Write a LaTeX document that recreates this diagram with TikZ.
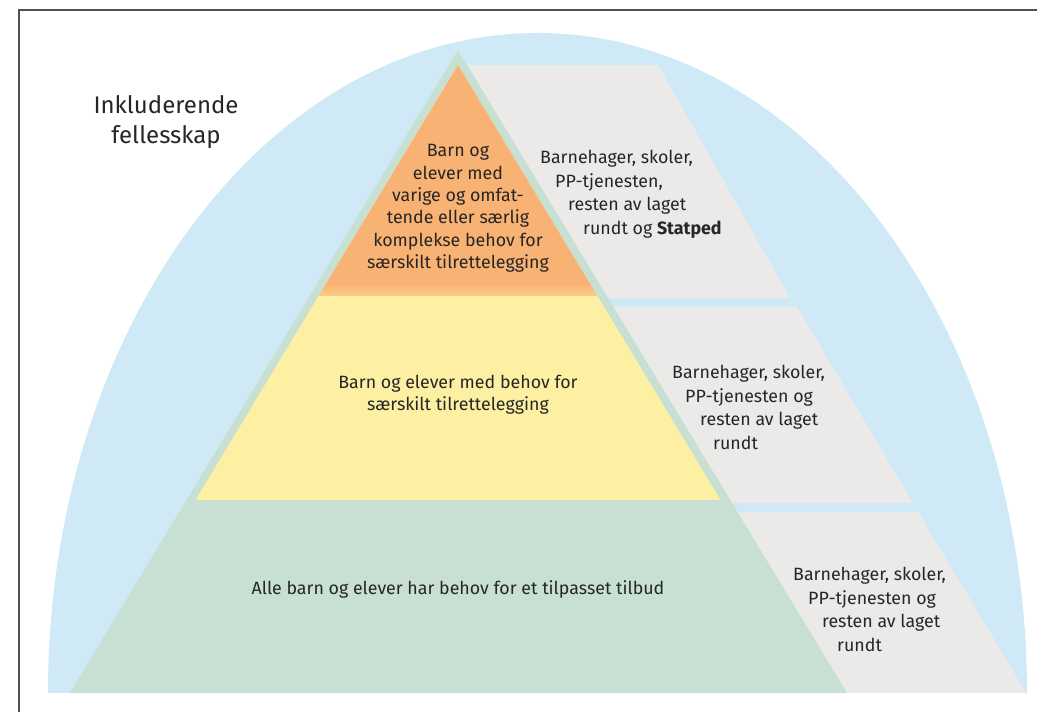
\documentclass[tikz,border=0pt]{standalone}
\usepackage{fontspec}
\setmainfont{Fira Sans}
\definecolor{archblue}{RGB}{207,234,246}
\definecolor{pyrgreen}{RGB}{200,224,212}
\definecolor{pyryellow}{RGB}{253,240,163}
\definecolor{pyrorange}{RGB}{248,178,115}
\definecolor{bandgray}{RGB}{235,234,233}
\definecolor{textgray}{RGB}{38,38,38}
\definecolor{framegray}{RGB}{80,80,80}
\tikzset{
	layertext/.style={align=center, inner sep=0pt, text=textgray, font=\fontsize{17.8}{22.3}\selectfont},
	bandtext/.style={align=left, anchor=north west, inner sep=0pt, text=textgray, font=\fontsize{17.8}{23.5}\selectfont},
}
\begin{document}
\begin{tikzpicture}[x=1pt,y=1pt]
		\useasboundingbox (0,0) rectangle (1037,712);
		\draw[framegray, line width=2pt] (19,0) -- (19,702) -- (1037,702);
		\fill[archblue] (48,19) arc[start angle=180, end angle=0, x radius=489.5, y radius=660] -- cycle;
		\fill[bandgray] (467,647) -- (658,647) -- (790,414) -- (607.6,414) -- cycle;
		\fill[bandgray] (613,405) -- (797,405) -- (913,209) -- (731,209) -- cycle;
		\fill[bandgray] (736.8,200) -- (918,200) -- (1026,19) -- (847,19) -- cycle;
		\fill[pyrgreen] (458,662) -- (70,19) -- (847,19) -- cycle;
		\begin{scope}
			\clip (458,647) -- (195.5,212) -- (720.5,212) -- cycle;
			\fill[pyryellow] (0,212) rectangle (1037,700);
			\fill[pyrorange] (0,428) rectangle (1037,700);
			\shade[bottom color=pyrorange!55!pyryellow, top color=pyrorange] (0,416) rectangle (1037,428.5);
		\end{scope}
		\node[font=\fontsize{24}{30}\selectfont, align=center, text=textgray, inner sep=0pt] (title) at (166,590) {Inkluderende\\fellesskap};
		\node[layertext] (topLayer) at (458,503.5) {Barn og\\elever med\\varige og omfat-\\tende eller særlig\\komplekse behov for\\særskilt tilrettelegging};
		\node[layertext] (midLayer) at (458,317.5) {Barn og elever med behov for\\særskilt tilrettelegging};
		\node[layertext, anchor=base] (baseLayer) at (458,117) {Alle barn og elever har behov for et tilpasset tilbud};
		\node[bandtext] (topSupport) at (540,562) {Barnehager, skoler,\\\hspace*{15pt}PP-tjenesten,\\\hspace*{28pt}resten av laget\\\hspace*{43pt}rundt og \textbf{Statped}};
		\node[bandtext] (midSupport) at (672,347) {Barnehager, skoler,\\\hspace*{13pt}PP-tjenesten og\\\hspace*{28pt}resten av laget\\\hspace*{41pt}rundt};
		\node[bandtext] (baseSupport) at (793,145) {Barnehager, skoler,\\\hspace*{15pt}PP-tjenesten og\\\hspace*{29pt}resten av laget\\\hspace*{44pt}rundt};
\end{tikzpicture}
\end{document}
